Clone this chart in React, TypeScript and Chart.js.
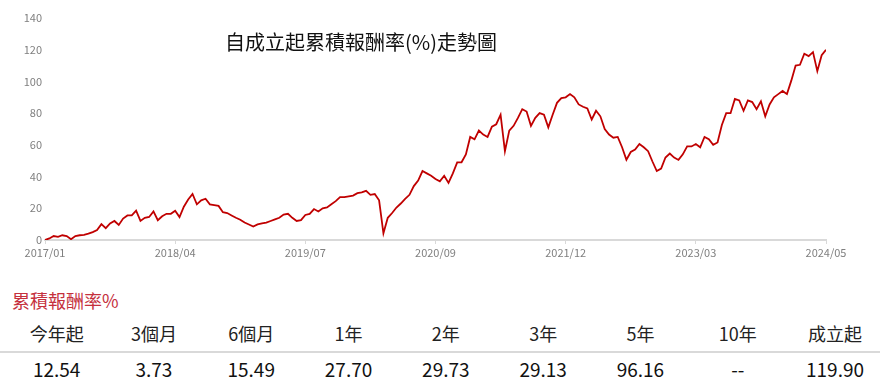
import React, { useEffect, useRef } from "react";
import { Chart, registerables } from "chart.js";

Chart.register(...registerables);

const title = "自成立起累積報酬率(%)走勢圖";
const xTickLabels = ["2017/01", "2018/04", "2019/07", "2020/09", "2021/12", "2023/03", "2024/05"];
const cumulativeReturn = [
  0, 1, 2.5, 2, 3, 2.5, 0.5, 2.5, 3, 3.2,
  4, 5, 6.3, 10, 7.5, 10.5, 12, 9.5, 13.5, 15.5,
  15.5, 18.5, 12, 14, 14.5, 18, 12.5, 15, 16.5, 16.5,
  18.5, 14.5, 21, 25.5, 29, 22.5, 25, 26, 22.5, 22,
  21.5, 17.5, 17, 15.5, 14, 12.8, 11, 9.8, 8.5, 9.8,
  10.5, 11, 12, 13, 14, 16, 16.5, 14, 12, 12.5,
  15.8, 16.5, 19.5, 18, 20, 20.5, 22.5, 24.5, 27, 27,
  27.5, 28, 29.5, 30, 31, 28.5, 29, 25, 4.2, 14,
  17, 20.5, 23, 26, 28.5, 34, 37.5, 43.5, 42, 40.5,
  38.5, 37, 40.5, 36, 42, 49, 49, 54, 65, 63.5,
  69, 66.5, 65, 71.5, 73, 79, 56, 69, 72, 77,
  82.5, 81, 72, 77, 80, 79, 71, 79, 86.5, 89.5,
  90, 92, 90, 85.5, 84, 83, 76, 81.5, 78, 70,
  66.5, 64.5, 65, 58.5, 50.6, 55.5, 57, 60.5, 58.5, 56,
  49.5, 43.5, 45, 52, 54.5, 52, 50.5, 54, 59, 59,
  60.5, 58.5, 65, 63.5, 60, 61.5, 72.5, 80, 80, 89,
  88, 81.5, 88, 87, 82.5, 87.5, 78, 85.5, 90, 92,
  94, 92, 100.5, 110, 110.5, 117.5, 116, 118.5, 106.5, 116.5,
  119.9,
];
const tableTitle = "累積報酬率%";
const periods = ["今年起", "3個月", "6個月", "1年", "2年", "3年", "5年", "10年", "成立起"];
const periodReturns = ["12.54", "3.73", "15.49", "27.70", "29.73", "29.13", "96.16", "--", "119.90"];

const FONT = "'Noto Sans CJK TC', 'Noto Sans', sans-serif";
const LAST = cumulativeReturn.length - 1;
const TICK_STEP = LAST / (xTickLabels.length - 1);

export default function App() {
  const canvasRef = useRef<HTMLCanvasElement | null>(null);

  useEffect(() => {
    if (!canvasRef.current) return;
    const chart = new Chart(canvasRef.current, {
      type: "line",
      data: {
        datasets: [
          {
            data: cumulativeReturn.map((v, i) => ({ x: i, y: v })),
            borderColor: "#C00000",
            borderWidth: 1.8,
            pointRadius: 0,
            tension: 0,
            fill: false,
          },
        ],
      },
      options: {
        animation: false,
        responsive: false,
        maintainAspectRatio: false,
        layout: { padding: { left: 0, right: 63, top: 18, bottom: 0 } },
        plugins: { legend: { display: false }, tooltip: { enabled: false }, title: { display: false } },
        scales: {
          x: {
            type: "linear",
            min: 0,
            max: LAST,
            grid: { drawOnChartArea: false, drawTicks: true, tickLength: 4, color: "#d9d9d9" },
            border: { color: "#d9d9d9", width: 2 },
            ticks: {
              stepSize: TICK_STEP,
              autoSkip: false,
              maxRotation: 0,
              padding: 2,
              color: "#7f7f7f",
              font: { family: FONT, size: 11 },
              callback: (v: any) => xTickLabels[Math.round(Number(v) / TICK_STEP)] ?? "",
            },
            afterFit: (s: any) => {
              s.height = 25;
            },
          },
          y: {
            min: 0,
            max: 140,
            grid: { display: false, drawTicks: false },
            border: { display: false },
            ticks: {
              stepSize: 20,
              padding: 3,
              color: "#7f7f7f",
              font: { family: FONT, size: 11 },
            },
            afterFit: (s: any) => {
              s.width = 45;
            },
          },
        },
      },
    });
    return () => chart.destroy();
  }, []);

  const colW = 97.3;
  return (
    <div style={{ position: "fixed", left: 0, top: 0, width: 889, height: 390, background: "#fff", fontFamily: FONT }}>
      <canvas ref={canvasRef} width={889} height={265} style={{ position: "absolute", left: 0, top: 0, width: 889, height: 265 }} />
      <div style={{ position: "absolute", left: 225, top: 29, fontSize: 20, color: "#111", whiteSpace: "nowrap", lineHeight: "26px" }}>
        {title}
      </div>
      <div style={{ position: "absolute", left: 12, top: 288, fontSize: 18, color: "#C5303D", lineHeight: "24px", whiteSpace: "nowrap" }}>
        {tableTitle}
      </div>
      <div style={{ position: "absolute", left: 0, top: 351, width: 880, height: 2, background: "#d9d9d9" }} />
      {periods.map((p, i) => (
        <div
          key={"h" + i}
          style={{ position: "absolute", left: 8 + i * colW, top: 321, width: colW, textAlign: "center", fontSize: 18, color: "#222", lineHeight: "24px" }}
        >
          {p}
        </div>
      ))}
      {periodReturns.map((p, i) => (
        <div
          key={"v" + i}
          style={{ position: "absolute", left: 8 + i * colW, top: 356, width: colW, textAlign: "center", fontSize: 19, color: "#111", lineHeight: "26px" }}
        >
          {p}
        </div>
      ))}
    </div>
  );
}
